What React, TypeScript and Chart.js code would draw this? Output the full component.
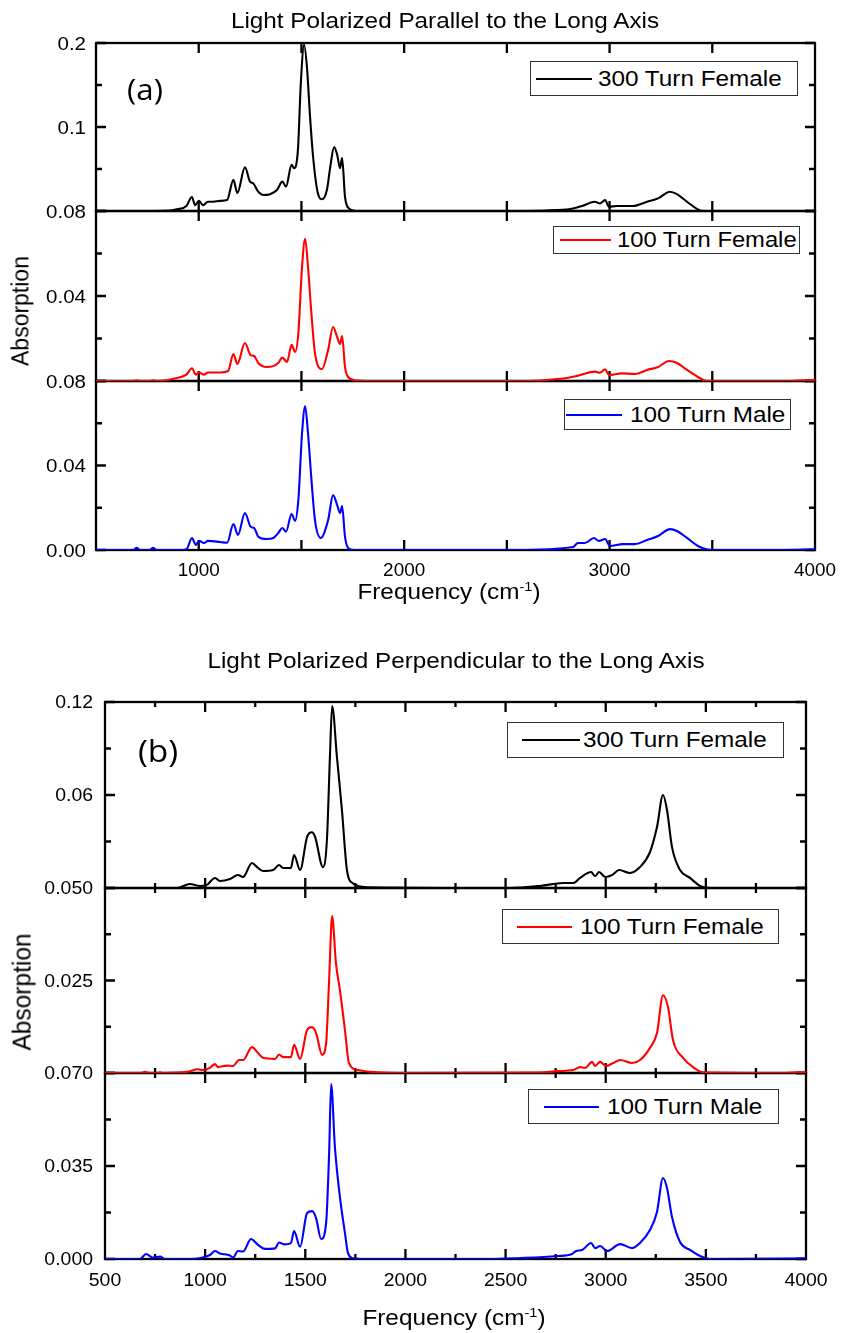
import React, { useEffect, useRef } from 'react';
import { Chart, registerables } from 'chart.js';

Chart.register(...registerables);

// ---------------- data (frequency in cm-1, absorption) ----------------
const seriesNames = ['300 Turn Female', '100 Turn Female', '100 Turn Male'];

// (a) light polarized parallel to the long axis
const freqA1 = [500, 740, 860, 894, 940, 967, 982, 1001, 1021, 1045, 1070, 1104, 1138, 1169, 1188, 1225, 1250, 1265, 1290, 1315, 1347, 1381, 1407, 1425, 1452, 1464, 1483, 1497, 1513, 1527, 1542, 1557, 1580, 1600, 1624, 1640, 1659, 1674, 1688, 1698, 1712, 1727, 1770, 2000, 2579, 2744, 2822, 2866, 2929, 2953, 2978, 2997, 3036, 3114, 3182, 3236, 3294, 3328, 3377, 3430, 3455, 4000];
const absA1 = [0, 0, 0.0005, 0.002, 0.006, 0.0167, 0.007, 0.012, 0.007, 0.011, 0.011, 0.012, 0.013, 0.037, 0.0214, 0.052, 0.035, 0.033, 0.023, 0.019, 0.02, 0.025, 0.035, 0.029, 0.055, 0.051, 0.073, 0.152, 0.198, 0.171, 0.112, 0.064, 0.021, 0.014, 0.025, 0.052, 0.076, 0.067, 0.051, 0.063, 0.017, 0.004, 0, 0, 0, 0.001, 0.003, 0.006, 0.011, 0.009, 0.013, 0.005, 0.006, 0.006, 0.011, 0.015, 0.023, 0.02, 0.011, 0.002, 0, 0];

const freqA2 = [500, 680, 700, 720, 760, 780, 800, 894, 940, 967, 986, 1001, 1026, 1045, 1104, 1143, 1169, 1188, 1225, 1253, 1270, 1290, 1330, 1363, 1387, 1407, 1430, 1452, 1469, 1485, 1503, 1518, 1532, 1550, 1566, 1600, 1630, 1654, 1674, 1688, 1698, 1712, 1727, 1770, 1819, 2549, 2773, 2841, 2929, 2953, 2978, 2997, 3060, 3124, 3182, 3236, 3289, 3328, 3377, 3430, 3473, 3845, 3950, 4000];
const absA2 = [0, 0, 0.0003, 0, 0, 0.0003, 0, 0.0014, 0.003, 0.006, 0.003, 0.004, 0.003, 0.004, 0.004, 0.0047, 0.0127, 0.008, 0.0179, 0.0122, 0.0118, 0.0085, 0.0066, 0.007, 0.0085, 0.011, 0.009, 0.017, 0.0137, 0.0226, 0.0537, 0.0669, 0.0537, 0.03, 0.013, 0.0056, 0.0146, 0.0254, 0.0207, 0.0174, 0.0212, 0.0066, 0.0019, 0.0002, 0, 0, 0.0012, 0.0024, 0.0044, 0.0039, 0.0055, 0.0028, 0.0036, 0.0033, 0.0052, 0.0066, 0.0094, 0.0085, 0.0052, 0.0019, 0, 0, 0.0003, 0.0003];

const freqA3 = [500, 680, 698, 715, 760, 778, 795, 920, 942, 967, 986, 1001, 1026, 1045, 1104, 1138, 1169, 1191, 1225, 1253, 1270, 1290, 1330, 1363, 1387, 1407, 1425, 1452, 1469, 1485, 1503, 1518, 1532, 1550, 1566, 1594, 1630, 1654, 1674, 1688, 1698, 1712, 1727, 1755, 2549, 2822, 2846, 2880, 2924, 2948, 2978, 3002, 3065, 3124, 3182, 3236, 3294, 3328, 3377, 3430, 3499, 3850, 4000];
const absA3 = [0, 0, 0.001, 0, 0, 0.001, 0, 0, 0.0005, 0.0057, 0.0024, 0.0043, 0.0033, 0.0043, 0.0038, 0.0034, 0.0123, 0.0071, 0.0175, 0.011, 0.0104, 0.0063, 0.0052, 0.0057, 0.008, 0.0104, 0.0087, 0.017, 0.0138, 0.0237, 0.0553, 0.068, 0.0553, 0.0317, 0.014, 0.0057, 0.0142, 0.026, 0.0213, 0.0175, 0.0208, 0.0063, 0.001, 0, 0, 0.0014, 0.0033, 0.0033, 0.0057, 0.0043, 0.0052, 0.0019, 0.0028, 0.0028, 0.0047, 0.0066, 0.0099, 0.009, 0.0057, 0.0019, 0, 0, 0.0003];

// (b) light polarized perpendicular to the long axis
const freqB1 = [500, 859, 924, 974, 1009, 1049, 1074, 1124, 1164, 1189, 1234, 1259, 1289, 1339, 1369, 1389, 1428, 1444, 1474, 1509, 1533, 1549, 1588, 1608, 1623, 1634, 1658, 1683, 1708, 1738, 1808, 2522, 2672, 2787, 2837, 2872, 2927, 2947, 2967, 2997, 3032, 3067, 3121, 3171, 3221, 3256, 3286, 3306, 3331, 3371, 3421, 3471, 3521, 4000];
const absB1 = [0, 0, 0.0026, 0.0013, 0.002, 0.0065, 0.0045, 0.0058, 0.0084, 0.0071, 0.0161, 0.0135, 0.011, 0.0116, 0.0148, 0.0129, 0.0129, 0.0213, 0.0116, 0.033, 0.036, 0.033, 0.0135, 0.031, 0.0845, 0.1174, 0.0845, 0.0503, 0.0116, 0.003, 0.0005, 0, 0.0013, 0.0032, 0.0032, 0.0065, 0.0103, 0.0077, 0.0103, 0.0071, 0.0084, 0.0116, 0.0097, 0.0135, 0.0232, 0.0393, 0.06, 0.0503, 0.0264, 0.0116, 0.0065, 0.0013, 0, 0];

const freqB2 = [500, 680, 700, 720, 760, 775, 790, 909, 964, 989, 1024, 1049, 1064, 1109, 1139, 1169, 1189, 1234, 1264, 1289, 1349, 1369, 1389, 1428, 1444, 1474, 1509, 1534, 1554, 1584, 1604, 1619, 1634, 1653, 1673, 1698, 1718, 1763, 1858, 2000, 2672, 2757, 2837, 2872, 2897, 2932, 2947, 2972, 3002, 3037, 3072, 3132, 3171, 3221, 3256, 3286, 3311, 3336, 3386, 3436, 3486, 3900, 3970, 4000];
const absB2 = [0, 0, 0.0003, 0, 0, 0.0002, 0, 0.0003, 0.001, 0.0008, 0.0014, 0.0024, 0.0016, 0.002, 0.0019, 0.0035, 0.0035, 0.007, 0.0054, 0.0041, 0.0038, 0.005, 0.0043, 0.0043, 0.0076, 0.0038, 0.0116, 0.0124, 0.0108, 0.0049, 0.0081, 0.0251, 0.0424, 0.0297, 0.0224, 0.0116, 0.0027, 0.0008, 0.0002, 0, 0.0001, 0.0005, 0.0008, 0.0016, 0.0014, 0.003, 0.0019, 0.003, 0.0019, 0.0027, 0.0035, 0.0027, 0.0035, 0.0068, 0.0108, 0.021, 0.0178, 0.0089, 0.0041, 0.0016, 0.0002, 0, 0.0002, 0.0002];

const freqB3 = [500, 675, 705, 740, 775, 800, 924, 989, 1024, 1049, 1074, 1124, 1139, 1164, 1189, 1229, 1264, 1299, 1349, 1369, 1394, 1428, 1444, 1474, 1509, 1534, 1554, 1579, 1604, 1619, 1629, 1648, 1673, 1698, 1713, 1738, 1800, 2422, 2557, 2757, 2832, 2852, 2882, 2927, 2947, 2972, 3007, 3072, 3132, 3171, 3221, 3256, 3286, 3306, 3331, 3371, 3421, 3471, 3521, 3935, 4000];
const absB3 = [0, 0, 0.0019, 0.0005, 0.0009, 0, 0, 0.0006, 0.0015, 0.003, 0.0021, 0.0013, 0.0005, 0.003, 0.0028, 0.0075, 0.0053, 0.0038, 0.004, 0.0062, 0.0055, 0.006, 0.0105, 0.0046, 0.0173, 0.018, 0.0154, 0.0075, 0.0135, 0.0398, 0.0658, 0.042, 0.0233, 0.0098, 0.0023, 0.0003, 0, 0, 0.0003, 0.0011, 0.0019, 0.003, 0.0034, 0.006, 0.0041, 0.0049, 0.003, 0.0056, 0.0041, 0.006, 0.0109, 0.0177, 0.0305, 0.0267, 0.0158, 0.0064, 0.0034, 0.0011, 0, 0.0002, 0.0003];

// ---------------- ticks ----------------
const xMin = 500;
const xMax = 4000;
const xMajorA = [1000, 1500, 2000, 2500, 3000, 3500];
const xMinorA: number[] = [];
const xLabelValuesA = [1000, 2000, 3000, 4000];
const xLabelsA = ['1000', '2000', '3000', '4000'];

const xMajorB = [1000, 1500, 2000, 2500, 3000, 3500];
const xMinorB = [750, 1250, 1750, 2250, 2750, 3250, 3750];
const xLabelValuesB = [500, 1000, 1500, 2000, 2500, 3000, 3500, 4000];
const xLabelsB = ['500', '1000', '1500', '2000', '2500', '3000', '3500', '4000'];

const yMaxA1 = 0.2, yTicksA1 = [0, 0.1, 0.2], yLabelsA1 = ['', '0.1', '0.2'], yMinorA1 = [0.05, 0.15];
const yMaxA2 = 0.08, yTicksA2 = [0, 0.04, 0.08], yLabelsA2 = ['', '0.04', '0.08'], yMinorA2 = [0.02, 0.06];
const yMaxA3 = 0.08, yTicksA3 = [0, 0.04, 0.08], yLabelsA3 = ['0.00', '0.04', '0.08'], yMinorA3 = [0.02, 0.06];
const yMaxB1 = 0.12, yTicksB1 = [0, 0.06, 0.12], yLabelsB1 = ['', '0.06', '0.12'], yMinorB1 = [0.03, 0.09];
const yMaxB2 = 0.05, yTicksB2 = [0, 0.025, 0.05], yLabelsB2 = ['', '0.025', '0.050'], yMinorB2 = [0.0125, 0.0375];
const yMaxB3 = 0.07, yTicksB3 = [0, 0.035, 0.07], yLabelsB3 = ['0.000', '0.035', '0.070'], yMinorB3 = [0.0175, 0.0525];

// ---------------- layout / style ----------------
const W = 841;
const S = 1.08; // horizontal text stretch of the original figure
const SANS = '"Liberation Sans", Arial, Helvetica, sans-serif';
const MAJOR = 10;
const MINOR = 5;
const COLORS = ['#000000', '#ff0000', '#0000ff'];

interface SubCfg {
  freq: number[]; abs: number[]; max: number; ticks: number[]; labels: string[]; minor: number[];
  color: string; weight: number;
}
interface PanelCfg {
  top: number; height: number; left: number; right: number; plotTop: number; plotBottom: number;
  subs: SubCfg[]; xMajor: number[]; xMinor: number[]; xLabelValues: number[]; xLabels: string[];
  yFont: number; xFont: number; yGap: number; xLabelDy: number;
}

const panelA: PanelCfg = {
  top: 0, height: 620, left: 96, right: 815, plotTop: 43, plotBottom: 550,
  subs: [
    { freq: freqA1, abs: absA1, max: yMaxA1, ticks: yTicksA1, labels: yLabelsA1, minor: yMinorA1, color: COLORS[0], weight: 168 },
    { freq: freqA2, abs: absA2, max: yMaxA2, ticks: yTicksA2, labels: yLabelsA2, minor: yMinorA2, color: COLORS[1], weight: 170 },
    { freq: freqA3, abs: absA3, max: yMaxA3, ticks: yTicksA3, labels: yLabelsA3, minor: yMinorA3, color: COLORS[2], weight: 169 },
  ],
  xMajor: xMajorA, xMinor: xMinorA, xLabelValues: xLabelValuesA, xLabels: xLabelsA,
  yFont: 19, xFont: 17.5, yGap: 10, xLabelDy: 20,
};

const panelB: PanelCfg = {
  top: 640, height: 693, left: 105, right: 806, plotTop: 702, plotBottom: 1259,
  subs: [
    { freq: freqB1, abs: absB1, max: yMaxB1, ticks: yTicksB1, labels: yLabelsB1, minor: yMinorB1, color: COLORS[0], weight: 186 },
    { freq: freqB2, abs: absB2, max: yMaxB2, ticks: yTicksB2, labels: yLabelsB2, minor: yMinorB2, color: COLORS[1], weight: 185 },
    { freq: freqB3, abs: absB3, max: yMaxB3, ticks: yTicksB3, labels: yLabelsB3, minor: yMinorB3, color: COLORS[2], weight: 186 },
  ],
  xMajor: xMajorB, xMinor: xMinorB, xLabelValues: xLabelValuesB, xLabels: xLabelsB,
  yFont: 18, xFont: 18, yGap: 12, xLabelDy: 21,
};

function drawStretched(ctx: CanvasRenderingContext2D, t: string, x: number, y: number) {
  ctx.save();
  ctx.translate(x, y);
  ctx.scale(S, 1);
  ctx.fillText(t, 0, 0);
  ctx.restore();
}

function makeFramePlugin(cfg: PanelCfg) {
  return {
    id: 'panelFrame',
    beforeDatasetsDraw(chart: any) {
      const ctx = chart.ctx as CanvasRenderingContext2D;
      const area = chart.chartArea;
      const xs = chart.scales.x;
      ctx.save();
      ctx.strokeStyle = '#000';
      ctx.lineWidth = 2.3;
      cfg.subs.forEach((sub, i) => {
        const ys = chart.scales['y' + (i + 1)];
        const top = ys.top;
        const bot = ys.bottom;
        ctx.strokeRect(area.left, top, area.right - area.left, bot - top);
        ctx.beginPath();
        const yTick = (v: number, len: number) => {
          const py = ys.getPixelForValue(v);
          ctx.moveTo(area.left, py); ctx.lineTo(area.left + len, py);
          ctx.moveTo(area.right, py); ctx.lineTo(area.right - len, py);
        };
        sub.ticks.forEach((v) => yTick(v, MAJOR));
        sub.minor.forEach((v) => yTick(v, MINOR + 1));
        const xTick = (v: number, len: number) => {
          const px = xs.getPixelForValue(v);
          ctx.moveTo(px, top); ctx.lineTo(px, top + len);
          ctx.moveTo(px, bot); ctx.lineTo(px, bot - len);
        };
        cfg.xMajor.forEach((v) => xTick(v, MAJOR));
        cfg.xMinor.forEach((v) => xTick(v, MINOR));
        ctx.stroke();
      });
      ctx.restore();
    },
    afterDraw(chart: any) {
      const ctx = chart.ctx as CanvasRenderingContext2D;
      const area = chart.chartArea;
      const xs = chart.scales.x;
      ctx.save();
      ctx.fillStyle = '#000';
      ctx.textBaseline = 'alphabetic';
      ctx.font = `${cfg.yFont}px ${SANS}`;
      ctx.textAlign = 'right';
      cfg.subs.forEach((sub, i) => {
        const ys = chart.scales['y' + (i + 1)];
        sub.labels.forEach((t, k) => {
          if (!t) return;
          const py = ys.getPixelForValue(sub.ticks[k]);
          drawStretched(ctx, t, area.left - cfg.yGap, py + 0.358 * cfg.yFont);
        });
      });
      ctx.font = `${cfg.xFont}px ${SANS}`;
      ctx.textAlign = 'center';
      cfg.xLabelValues.forEach((v, k) => {
        drawStretched(ctx, cfg.xLabels[k], xs.getPixelForValue(v), area.bottom + cfg.xLabelDy + 0.358 * cfg.xFont);
      });
      ctx.restore();
    },
  };
}

function PanelChart({ cfg }: { cfg: PanelCfg }) {
  const ref = useRef<HTMLCanvasElement>(null);
  useEffect(() => {
    const canvas = ref.current;
    if (!canvas) return;
    const scales: any = {
      x: {
        type: 'linear', position: 'bottom', min: xMin, max: xMax,
        grid: { display: false, drawTicks: false }, border: { display: false }, ticks: { display: false },
        afterFit: (s: any) => { s.height = 0; s.paddingLeft = 0; s.paddingRight = 0; },
      },
    };
    cfg.subs.forEach((sub, i) => {
      scales['y' + (i + 1)] = {
        type: 'linear', position: 'left', axis: 'y', stack: 'panel', stackWeight: sub.weight,
        weight: cfg.subs.length - i, min: 0, max: sub.max,
        grid: { display: false, drawTicks: false }, border: { display: false }, ticks: { display: false },
        afterFit: (s: any) => { s.width = 0; s.paddingTop = 0; s.paddingBottom = 0; },
      };
    });
    const chart = new Chart(canvas, {
      type: 'line',
      data: {
        datasets: cfg.subs.map((sub, i) => ({
          label: seriesNames[i],
          data: sub.freq.map((f, k) => ({ x: f, y: sub.abs[k] })),
          xAxisID: 'x',
          yAxisID: 'y' + (i + 1),
          borderColor: sub.color,
          backgroundColor: sub.color,
          borderWidth: 2.1,
          pointRadius: 0,
          cubicInterpolationMode: 'monotone',
          fill: false,
        })),
      },
      options: {
        responsive: false,
        maintainAspectRatio: false,
        animation: false,
        events: [],
        layout: {
          padding: {
            left: cfg.left,
            right: W - cfg.right,
            top: cfg.plotTop - cfg.top,
            bottom: cfg.top + cfg.height - cfg.plotBottom,
          },
        },
        plugins: { legend: { display: false }, title: { display: false }, tooltip: { enabled: false } },
        scales,
      },
      plugins: [makeFramePlugin(cfg)],
    } as any);
    return () => chart.destroy();
  }, [cfg]);
  return (
    <canvas
      ref={ref}
      width={W}
      height={cfg.height}
      style={{ position: 'absolute', left: 0, top: cfg.top, width: W, height: cfg.height, display: 'block' }}
    />
  );
}

function LegendBox({ box, lineX, textX, color, name, fs }: { box: number[]; lineX: number[]; textX: number; color: string; name: string; fs: number }) {
  const [L, T, R, B] = box;
  const h = B - T;
  return (
    <div style={{ position: 'absolute', left: L, top: T, width: R - L, height: h, border: '1px solid #333', boxSizing: 'border-box', background: '#fff' }}>
      <div style={{ position: 'absolute', left: lineX[0] - L - 1, top: h / 2 - 2, width: lineX[1] - lineX[0], height: 2, background: color }} />
      <div style={{ position: 'absolute', left: textX - L - 1, top: 0, height: h - 2, lineHeight: `${h - 2}px`, fontSize: fs, fontFamily: SANS, whiteSpace: 'nowrap', color: '#000', transform: `scaleX(${S})`, transformOrigin: '0 50%' }}>{name}</div>
    </div>
  );
}

const textBase: React.CSSProperties = { position: 'absolute', fontFamily: SANS, whiteSpace: 'nowrap', lineHeight: 1, color: '#000' };

function CenteredText({ cx, top, fs, children }: { cx: number; top: number; fs: number; children: React.ReactNode }) {
  return <div style={{ ...textBase, left: cx, top, fontSize: fs, transform: `translateX(-50%) scaleX(${S})` }}>{children}</div>;
}

function FreqLabel({ cx, top }: { cx: number; top: number }) {
  return (
    <CenteredText cx={cx} top={top} fs={22.5}>
      Frequency (cm<span style={{ fontSize: '0.6em', position: 'relative', top: -8 }}>-1</span>)
    </CenteredText>
  );
}

function YLabel({ cx, cy, fs }: { cx: number; cy: number; fs: number }) {
  return (
    <div style={{ ...textBase, left: cx, top: cy, fontSize: fs, transform: `translate(-50%, -50%) scaleX(${S}) rotate(-90deg)` }}>Absorption</div>
  );
}

export default function App() {
  return (
    <div style={{ position: 'absolute', left: 0, top: 0, width: W, height: 1333, background: '#fff', overflow: 'hidden' }}>
      <PanelChart cfg={panelA} />
      <PanelChart cfg={panelB} />

      <CenteredText cx={445} top={10} fs={22.5}>Light Polarized Parallel to the Long Axis</CenteredText>
      <CenteredText cx={455.5} top={650} fs={22.5}>Light Polarized Perpendicular to the Long Axis</CenteredText>

      <div style={{ ...textBase, fontFamily: '"Open Sans", "Noto Sans", sans-serif', left: 127, top: 74, fontSize: 29, transform: `scaleX(${S})`, transformOrigin: '0 0' }}>(a)</div>
      <div style={{ ...textBase, fontFamily: '"Open Sans", "Noto Sans", sans-serif', left: 138, top: 735, fontSize: 31, transform: `scaleX(${S})`, transformOrigin: '0 0' }}>(b)</div>

      <YLabel cx={20} cy={311} fs={23} />
      <YLabel cx={22} cy={992} fs={24.5} />

      <FreqLabel cx={449} top={581} />
      <FreqLabel cx={454} top={1307} />

      <LegendBox box={[530, 61, 798, 96]} lineX={[536, 592]} textX={598} color={COLORS[0]} name={seriesNames[0]} fs={22.5} />
      <LegendBox box={[553, 226, 800, 254]} lineX={[560, 611]} textX={617} color={COLORS[1]} name={seriesNames[1]} fs={22} />
      <LegendBox box={[564, 399, 791, 430]} lineX={[566, 622]} textX={630} color={COLORS[2]} name={seriesNames[2]} fs={22.5} />

      <LegendBox box={[507, 722, 784, 758]} lineX={[522, 580]} textX={583} color={COLORS[0]} name={seriesNames[0]} fs={22.5} />
      <LegendBox box={[502, 909, 779, 944]} lineX={[517, 572]} textX={580} color={COLORS[1]} name={seriesNames[1]} fs={22.5} />
      <LegendBox box={[528, 1089, 779, 1124]} lineX={[544, 599]} textX={607} color={COLORS[2]} name={seriesNames[2]} fs={22.5} />
    </div>
  );
}
